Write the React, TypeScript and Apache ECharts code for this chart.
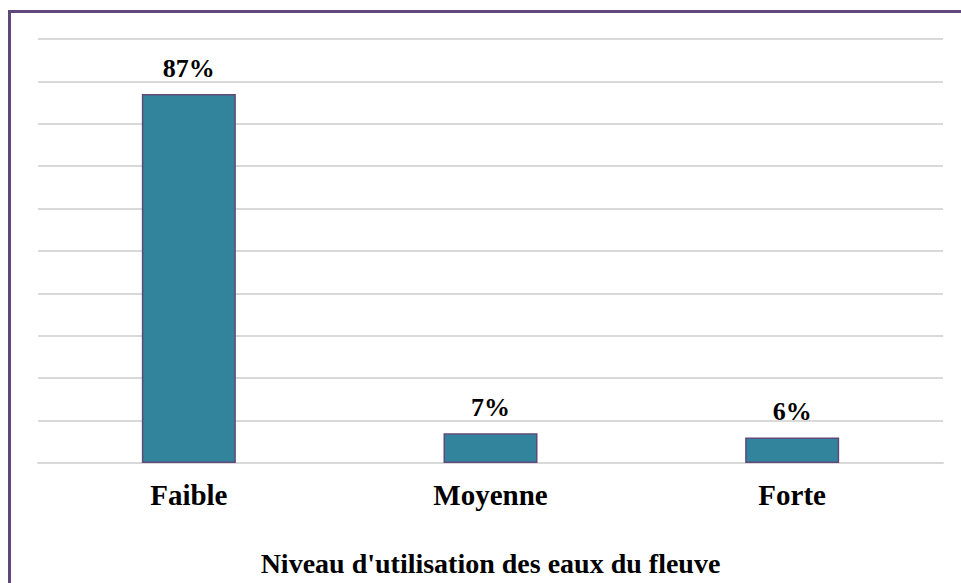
import React, { useEffect, useRef } from "react";
import * as echarts from "echarts";

const categories = ["Faible", "Moyenne", "Forte"];
const values = [87, 7, 6];
const axisTitle = "Niveau d'utilisation des eaux du fleuve";

export default function App() {
  const ref = useRef<HTMLDivElement>(null);
  useEffect(() => {
    if (!ref.current) return;
    const chart = echarts.init(ref.current, undefined, { renderer: "svg" });
    const font = "'Liberation Serif', 'Times New Roman', serif";
    chart.setOption({
      animation: false,
      backgroundColor: "#ffffff",
      grid: { left: 38, right: 18, top: 39, bottom: 120, containLabel: false },
      graphic: [
        {
          type: "polyline",
          shape: { points: [[9.5, 583], [9.5, 11.5], [961, 11.5]] },
          style: { stroke: "#5F497A", lineWidth: 3, fill: null },
          silent: true,
        },
      ],
      xAxis: {
        type: "category",
        data: categories,
        axisLine: { show: true, lineStyle: { color: "#D9D9D9", width: 2 } },
        axisTick: { show: false },
        axisLabel: {
          margin: 17,
          fontFamily: font,
          fontWeight: "bold",
          fontSize: 29,
          color: "#000000",
        },
        name: axisTitle,
        nameLocation: "middle",
        nameGap: 86,
        nameTextStyle: {
          fontFamily: font,
          fontWeight: "bold",
          fontSize: 28,
          color: "#000000",
          verticalAlign: "top",
        },
      },
      yAxis: {
        type: "value",
        min: 0,
        max: 100,
        interval: 10,
        axisLabel: { show: false },
        axisLine: { show: false },
        axisTick: { show: false },
        splitLine: { show: true, lineStyle: { color: "#D9D9D9", width: 2 } },
      },
      series: [
        {
          type: "bar",
          data: values,
          barWidth: 94,
          itemStyle: { color: "#31849B", borderColor: "#5F497A", borderWidth: 1.5 },
          label: {
            show: true,
            position: "top",
            distance: 13,
            formatter: (p: any) => p.value + "%",
            fontFamily: font,
            fontWeight: "bold",
            fontSize: 26,
            color: "#000000",
          },
        },
      ],
    });
    return () => chart.dispose();
  }, []);
  return (
    <div
      ref={ref}
      style={{ position: "absolute", left: 0, top: 0, width: 961, height: 583 }}
    />
  );
}
